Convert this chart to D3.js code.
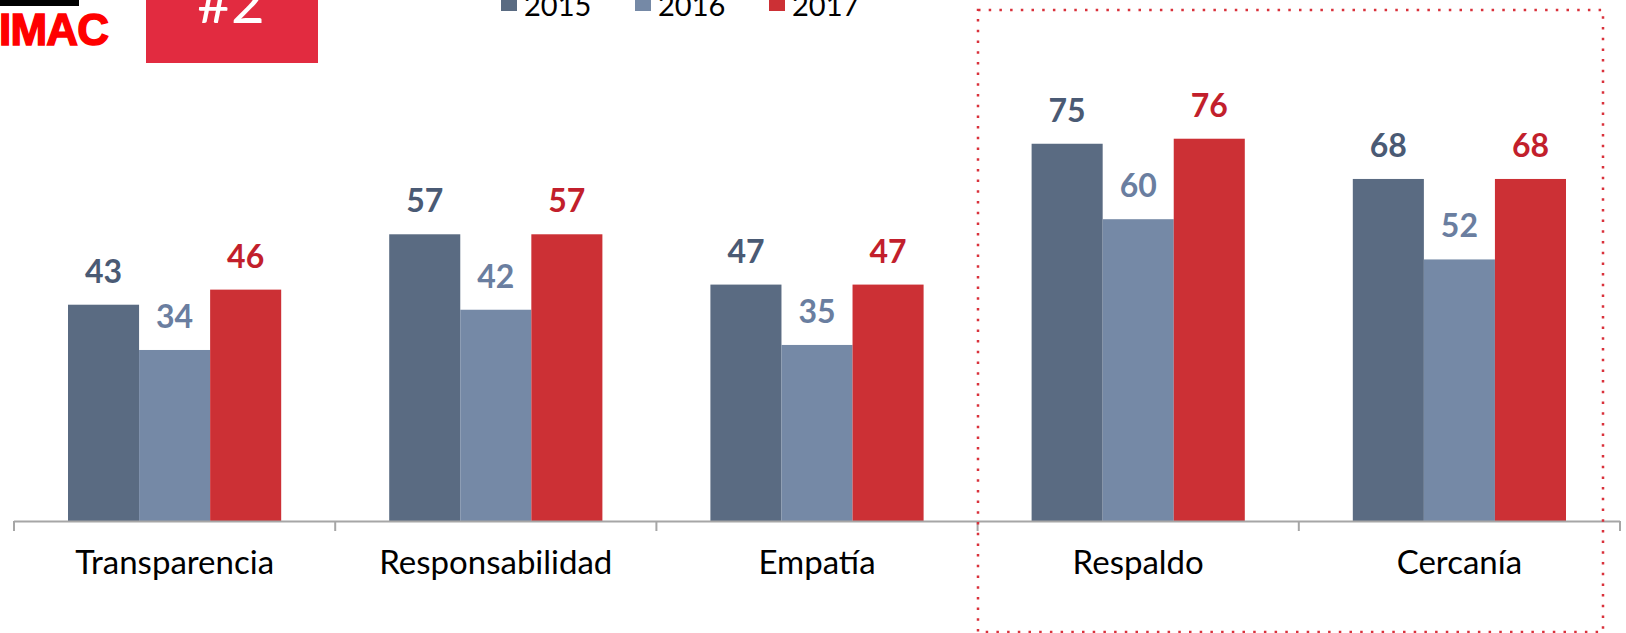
<!DOCTYPE html>
<html>
<head>
<meta charset="utf-8">
<script src="https://cdn.jsdelivr.net/npm/d3@7"></script>
<style>
  body { margin: 0; background: #fff; }
  svg { display: block; }
</style>
</head>
<body>
<svg width="1626" height="633"></svg>
<script>
var categories = ["Transparencia", "Responsabilidad", "Empatía", "Respaldo", "Cercanía"];
var years = ["2015", "2016", "2017"];
var values2015 = [43, 57, 47, 75, 68];
var values2016 = [34, 42, 35, 60, 52];
var values2017 = [46, 57, 47, 76, 68];

var barColors = ["#5a6b82", "#7589a6", "#cc3035"];
var labelColors = ["#4a5a74", "#6a7ea0", "#c21f2c"];

var svg = d3.select("svg");

var x0 = d3.scaleBand().domain(categories).range([14, 1620]).paddingInner(0).paddingOuter(0);
var x1 = d3.scaleBand().domain(years).range([0, x0.bandwidth()]).paddingInner(0).paddingOuter(0.76);
var y = d3.scaleLinear().domain([0, 100]).range([521, 18]);

var series = [values2015, values2016, values2017];
var rows = [];
categories.forEach(function(c, i) {
  years.forEach(function(yr, j) {
    rows.push({ cat: c, year: yr, idx: j, v: series[j][i] });
  });
});

// bars
svg.selectAll(".bar")
  .data(rows)
  .enter().append("rect")
    .attr("class", "bar")
    .attr("x", function(d) { return x0(d.cat) + x1(d.year); })
    .attr("y", function(d) { return y(d.v); })
    .attr("width", x1.bandwidth())
    .attr("height", function(d) { return y(0) - y(d.v); })
    .attr("fill", function(d) { return barColors[d.idx]; });

// value labels
svg.selectAll(".val")
  .data(rows)
  .enter().append("text")
    .attr("class", "val")
    .attr("x", function(d) { return x0(d.cat) + x1(d.year) + x1.bandwidth() / 2; })
    .attr("y", function(d) { return y(d.v) - 22; })
    .attr("text-anchor", "middle")
    .attr("font-family", "Lato")
    .attr("font-weight", "bold")
    .attr("font-size", 32)
    .attr("fill", function(d) { return labelColors[d.idx]; })
    .text(function(d) { return d.v; });

// x axis
var axis = d3.axisBottom(x0).tickSize(0).tickPadding(0);
var gx = svg.append("g").attr("transform", "translate(0,521)").call(axis);
gx.select(".domain").remove();
gx.selectAll(".tick text")
  .attr("y", 53)
  .attr("dy", 0)
  .attr("font-family", "Lato")
  .attr("font-size", 33)
  .attr("fill", "#000");

svg.append("line")
  .attr("x1", 14).attr("x2", 1620)
  .attr("y1", 521.5).attr("y2", 521.5)
  .attr("stroke", "#a6a6a6").attr("stroke-width", 2);

var bounds = categories.map(function(c) { return x0(c); }).concat([x0.range()[1]]);
svg.selectAll(".sep")
  .data(bounds)
  .enter().append("line")
    .attr("class", "sep")
    .attr("x1", function(d) { return d; }).attr("x2", function(d) { return d; })
    .attr("y1", 521).attr("y2", 531)
    .attr("stroke", "#a6a6a6").attr("stroke-width", 2);

// dotted highlight box
svg.append("rect")
  .attr("x", 978).attr("y", 10)
  .attr("width", 625).attr("height", 622)
  .attr("fill", "none")
  .attr("stroke", "#d9313b")
  .attr("stroke-width", 2.5)
  .attr("stroke-dasharray", "2.5 8.2");

// legend
var legend = svg.selectAll(".leg")
  .data(years)
  .enter().append("g")
    .attr("class", "leg")
    .attr("transform", function(d, i) { return "translate(" + (501 + i * 134) + ",0)"; });
legend.append("rect")
  .attr("x", 0).attr("y", -5)
  .attr("width", 16).attr("height", 16)
  .attr("fill", function(d, i) { return barColors[i]; });
legend.append("text")
  .attr("x", 23).attr("y", 16)
  .attr("font-family", "Lato")
  .attr("font-size", 29)
  .attr("fill", "#000")
  .text(function(d) { return d; });

// logo
svg.append("rect").attr("x", 0).attr("y", 0).attr("width", 79).attr("height", 6).attr("fill", "#000");
svg.append("text")
  .attr("x", -1).attr("y", 45)
  .attr("font-family", "Liberation Sans")
  .attr("font-weight", "bold")
  .attr("font-size", 44)
  .attr("fill", "#ff0000")
  .attr("stroke", "#ff0000")
  .attr("stroke-width", 1.5)
  .attr("textLength", 110)
  .text("IMAC");

svg.append("rect").attr("x", 146).attr("y", 0).attr("width", 172).attr("height", 63).attr("fill", "#e22b40");
svg.append("text")
  .attr("x", 231).attr("y", 23)
  .attr("text-anchor", "middle")
  .attr("font-family", "Lato")
  .attr("font-weight", "normal")
  .attr("font-size", 58)
  .attr("fill", "#fff")
  .text("#2");
</script>
</body>
</html>
